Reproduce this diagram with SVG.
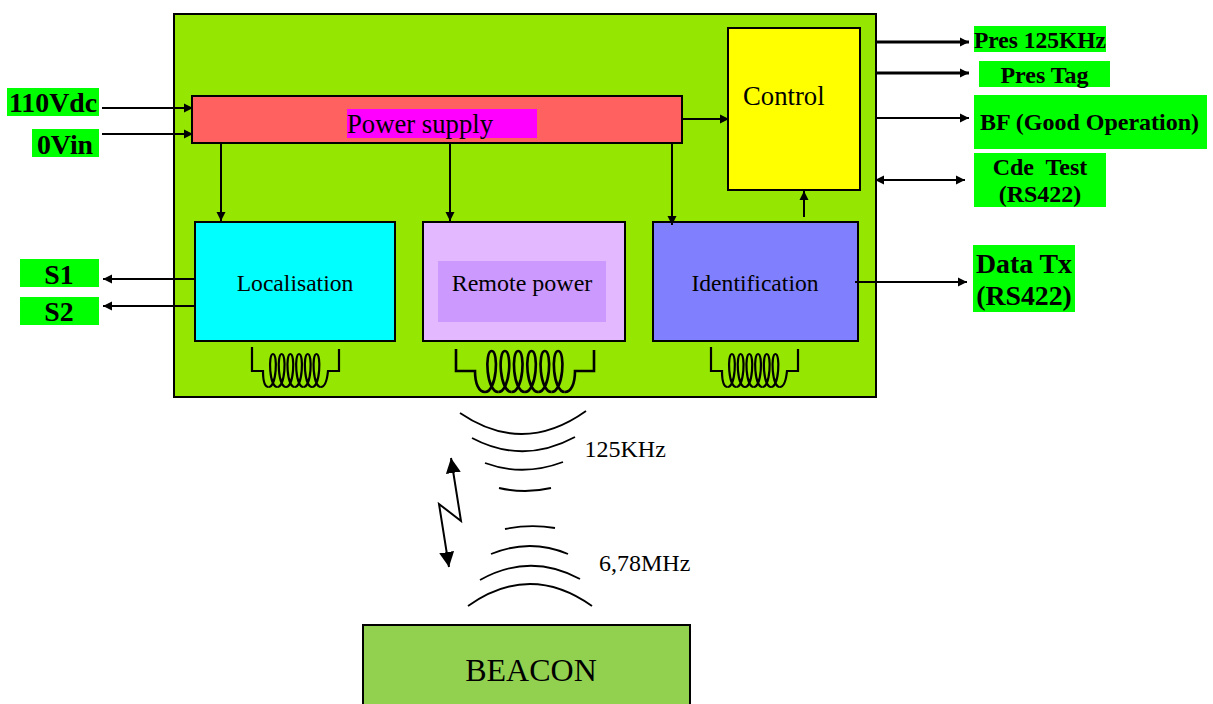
<svg xmlns="http://www.w3.org/2000/svg" width="1213" height="704" viewBox="0 0 1213 704">
<style>
text{font-family:"Liberation Serif","Times New Roman",serif;fill:#000}
.b{font-weight:bold;text-anchor:middle}
.m{text-anchor:middle}
.n{stroke:#000;stroke-width:2}
.g{fill:#00ff00}
.c{fill:none;stroke:#000;stroke-width:2}
.t{fill:none;stroke:#000;stroke-width:3}
.w{fill:none;stroke:#000;stroke-width:1.8}
.l{fill:none;stroke:#000;stroke-width:2.200}
.k{fill:none;stroke:#000;stroke-width:2.600}
</style>
<defs>
<marker id="a" markerUnits="userSpaceOnUse" markerWidth="10" markerHeight="10" refX="9" refY="5" orient="auto-start-reverse"><path d="M0 .5L9 5L0 9.500z" fill="#000"/></marker>
<marker id="big" markerUnits="userSpaceOnUse" markerWidth="18" markerHeight="18" refX="15" refY="8" orient="auto-start-reverse"><path d="M0 0.500L15 8L0 15.500z" fill="#000"/></marker>
<path id="ls" class="l" d="M0 33C8 33 9.300 0 4.350 0C-.6 0 .7 33 8.700 33"/>
<path id="lb" class="k" d="M0 41C12 41 14 0 6.650 0C-.7 0 1.300 41 13.300 41"/>
<g id="smallcoil">
<path class="l" d="M0-7V17H11C11 27 13 33 16.600 33M68.800 33C73 33 75 27 76 17H87V-5"/>
<use href="#ls" x="16.600"/><use href="#ls" x="25.300"/><use href="#ls" x="34"/><use href="#ls" x="42.700"/><use href="#ls" x="51.400"/><use href="#ls" x="60.100"/>
</g>
</defs>
<g id="main"><rect x="174" y="14" width="702" height="383" fill="#95e600" class="n"/></g>
<g id="power"><rect x="192" y="96" width="490" height="47" fill="#ff6060" class="n"/><rect x="347" y="109" width="190" height="29" fill="#ff00ff"/><text x="347" y="133" font-size="26.700">Power supply</text></g>
<g id="control"><rect x="728" y="28" width="132" height="162" fill="#ffff00" class="n"/><text x="743" y="105" font-size="26.700">Control</text></g>
<g id="localisation"><rect x="195" y="222" width="200" height="119" fill="#00ffff" class="n"/><text x="295" y="291" font-size="23.600" class="m">Localisation</text></g>
<g id="remote"><rect x="423" y="222" width="202" height="119" fill="#e3b8ff" class="n"/><rect x="438" y="261" width="168" height="61" fill="#cc99ff"/><text x="522" y="291" font-size="24" class="m">Remote power</text></g>
<g id="identification"><rect x="653" y="222" width="205" height="119" fill="#8080ff" class="n"/><text x="755" y="291" font-size="23.600" class="m">Identification</text></g>
<g id="coil1"><use href="#smallcoil" x="252" y="354"/></g>
<g id="coil2"><path class="k" d="M456 349V371H475C475 384 479 392 485 392M565 392C571 392 575 384 575 371H594V350"/>
<use href="#lb" x="485" y="351"/><use href="#lb" x="498.300" y="351"/><use href="#lb" x="511.600" y="351"/><use href="#lb" x="524.900" y="351"/><use href="#lb" x="538.200" y="351"/><use href="#lb" x="551.500" y="351"/></g>
<g id="coil3"><use href="#smallcoil" x="711" y="354"/></g>
<g id="labels">
<g id="l110"><rect x="7" y="88" width="92" height="28" class="g"/><text x="53" y="112" font-size="27.800" class="b">110Vdc</text></g>
<g id="l0v"><rect x="32" y="129" width="67" height="28" class="g"/><text x="65" y="154" font-size="27.800" class="b">0Vin</text></g>
<g id="ls1"><rect x="20" y="259" width="79" height="28" class="g"/><text x="59" y="284" font-size="27.800" class="b">S1</text></g>
<g id="ls2"><rect x="20" y="297" width="79" height="28" class="g"/><text x="59" y="321" font-size="27.800" class="b">S2</text></g>
<g id="lpres"><rect x="974" y="26" width="132" height="26" class="g"/><text x="1040" y="48" font-size="23.500" class="b">Pres 125KHz</text></g>
<g id="ltag"><rect x="979" y="61" width="131" height="26" class="g"/><text x="1044.500" y="83" font-size="24" class="b">Pres Tag</text></g>
<g id="lbf"><rect x="974" y="95" width="233" height="54" class="g"/><text x="1089.500" y="130" font-size="24" class="b">BF (Good Operation)</text></g>
<g id="lcde"><rect x="974" y="153" width="132" height="54" class="g"/><text x="1040" y="175" font-size="24" class="b" xml:space="preserve">Cde  Test</text><text x="1040" y="202" font-size="24" class="b">(RS422)</text></g>
<g id="ldata"><rect x="973" y="245" width="102" height="67" class="g"/><text x="1024" y="273" font-size="27.800" class="b">Data Tx</text><text x="1024" y="305" font-size="27.800" class="b">(RS422)</text></g>
</g>
<g id="connectors">
<path class="c" marker-end="url(#a)" d="M102 108H193"/>
<path class="c" marker-end="url(#a)" d="M102 134H193"/>
<path class="c" marker-end="url(#a)" d="M195 279H103"/>
<path class="c" marker-end="url(#a)" d="M195 306H103"/>
<path class="c" marker-end="url(#a)" d="M221 143V221"/>
<path class="c" marker-end="url(#a)" d="M450 143V221"/>
<path class="c" marker-end="url(#a)" d="M672 143V225"/>
<path class="c" marker-end="url(#a)" d="M682 119H729"/>
<path class="c" marker-end="url(#a)" d="M804 217V191"/>
<path class="t" marker-end="url(#a)" d="M877 42H969"/>
<path class="t" marker-end="url(#a)" d="M877 73H969"/>
<path class="c" marker-end="url(#a)" d="M877 118H969"/>
<path class="c" marker-start="url(#a)" marker-end="url(#a)" d="M875 180H965"/>
<path class="c" marker-end="url(#a)" d="M855 282H967"/>
<path class="c" marker-start="url(#big)" marker-end="url(#big)" d="M451 458L461 521L439 504L449 567"/>
</g>
<g id="waves">
<path class="w" d="M460 413Q523 456 586 411"/>
<path class="w" d="M472 438Q523 465 575 437"/>
<path class="w" d="M485 463Q523 477 563 462"/>
<path class="w" d="M499 488Q525 494 551 488"/>
<path class="w" d="M505 529Q530 524 555 528"/>
<path class="w" d="M491 554Q530 538 568 554"/>
<path class="w" d="M480 580Q530 552 580 579"/>
<path class="w" d="M468 606Q530 562 592 606"/>
</g>
<text x="584.500" y="457" font-size="24">125KHz</text>
<text x="599" y="571" font-size="24">6,78MHz</text>
<g id="beacon"><rect x="363" y="625" width="327" height="90" fill="#92d050" class="n"/><text x="531" y="681" font-size="32" class="m">BEACON</text></g>
</svg>
